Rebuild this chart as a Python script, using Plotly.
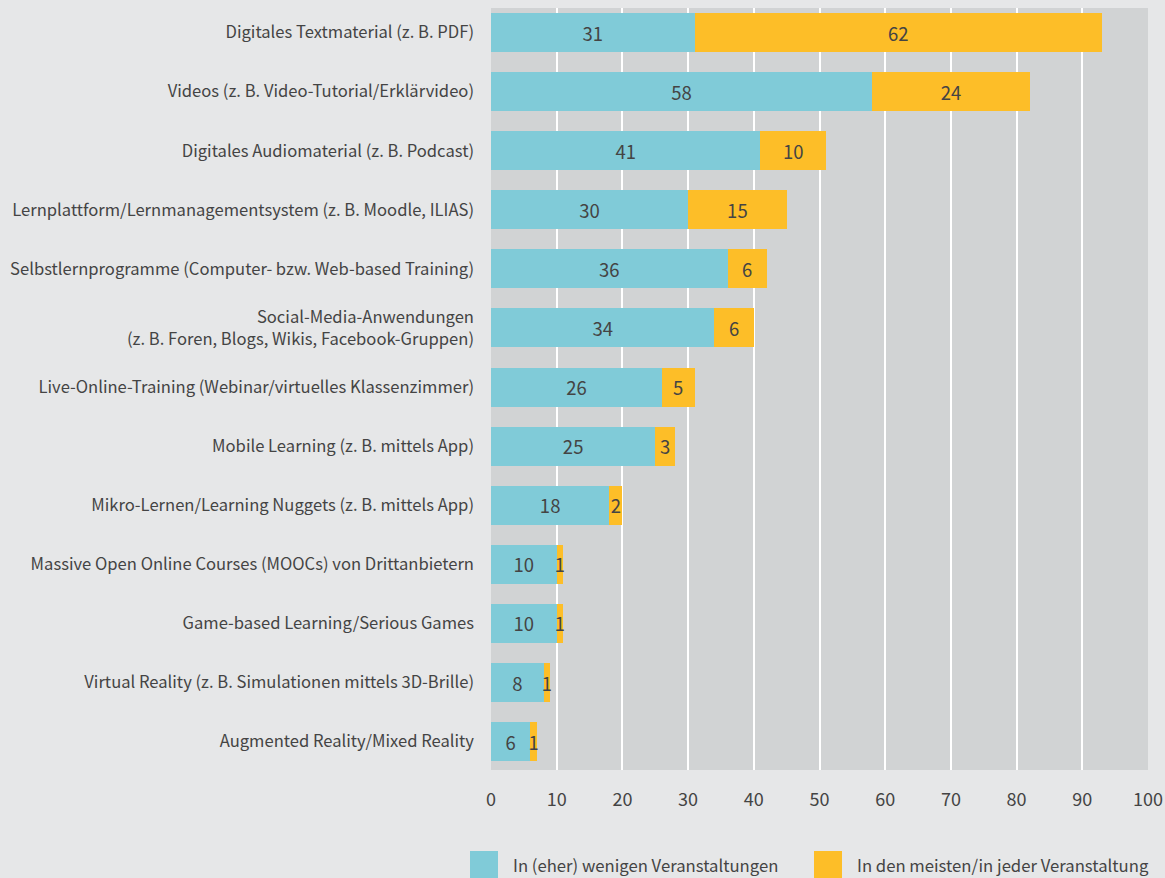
import plotly.graph_objects as go

categories = [
    "Digitales Textmaterial (z. B. PDF)",
    "Videos (z. B. Video-Tutorial/Erklärvideo)",
    "Digitales Audiomaterial (z. B. Podcast)",
    "Lernplattform/Lernmanagementsystem (z. B. Moodle, ILIAS)",
    "Selbstlernprogramme (Computer- bzw. Web-based Training)",
    "Social-Media-Anwendungen<br>(z. B. Foren, Blogs, Wikis, Facebook-Gruppen)",
    "Live-Online-Training (Webinar/virtuelles Klassenzimmer)",
    "Mobile Learning (z. B. mittels App)",
    "Mikro-Lernen/Learning Nuggets (z. B. mittels App)",
    "Massive Open Online Courses (MOOCs) von Drittanbietern",
    "Game-based Learning/Serious Games",
    "Virtual Reality (z. B. Simulationen mittels 3D-Brille)",
    "Augmented Reality/Mixed Reality",
]
few = [31, 58, 41, 30, 36, 34, 26, 25, 18, 10, 10, 8, 6]
most = [62, 24, 10, 15, 6, 6, 5, 3, 2, 1, 1, 1, 1]
series_names = ["In (eher) wenigen Veranstaltungen", "In den meisten/in jeder Veranstaltung"]
series_colors = ["#80cbd8", "#fdbe28"]
x_ticks = [0, 10, 20, 30, 40, 50, 60, 70, 80, 90, 100]

FONT = "Noto Sans CJK SC, Source Sans Pro, Lato, sans-serif"
TXT = "#444444"
W, H = 1165, 878
left, right, top, bottom = 491, 17, 8, 108
pw, ph = W - left - right, H - top - bottom


def px_x(px):
    return (px - left) / pw


def px_y(py):
    return (H - bottom - py) / ph


fig = go.Figure()
for name, vals, col in zip(series_names, [few, most], series_colors):
    fig.add_trace(go.Bar(
        y=categories, x=vals, orientation="h", name=name,
        marker=dict(color=col, line=dict(width=0)),
        text=[str(v) for v in vals], textposition="inside",
        insidetextanchor="middle", constraintext="none",
        textfont=dict(family=FONT, size=18.5, color=TXT),
        showlegend=False,
    ))

# legend (drawn as shapes + annotations)
leg_sq = [470, 814]
leg_tx = [512, 856]
for i, name in enumerate(series_names):
    fig.add_shape(type="rect", xref="paper", yref="paper",
                  x0=px_x(leg_sq[i]), x1=px_x(leg_sq[i] + 28),
                  y0=px_y(851), y1=px_y(880),
                  fillcolor=series_colors[i], line=dict(width=0), layer="above")
    fig.add_annotation(xref="paper", yref="paper", x=px_x(leg_tx[i]), y=px_y(865),
                       text=name, showarrow=False, xanchor="left", yanchor="middle",
                       xshift=-1, font=dict(family=FONT, size=16.7, color=TXT))

fig.update_layout(
    width=W, height=H, barmode="stack", bargap=0.34,
    paper_bgcolor="#e6e7e8", plot_bgcolor="#d1d3d4",
    margin=dict(l=left, r=right, t=top, b=bottom, autoexpand=False),
    font=dict(family=FONT, size=16.6, color=TXT),
    xaxis=dict(range=[0, 100], tickvals=x_ticks, showgrid=True, gridcolor="#ffffff",
               gridwidth=2, zeroline=False, showline=False, ticks="",
               ticklabelstandoff=17, tickfont=dict(size=18, color=TXT)),
    yaxis=dict(categoryorder="array", categoryarray=categories,
               range=[12.48, -0.415], showgrid=False, zeroline=False, ticks="",
               ticklabelstandoff=16, tickfont=dict(size=16.6, color=TXT)),
    showlegend=False,
)
fig.write_html("out.html", config={"displayModeBar": False},
               post_script="document.body.style.margin='0';document.body.style.padding='0';")
